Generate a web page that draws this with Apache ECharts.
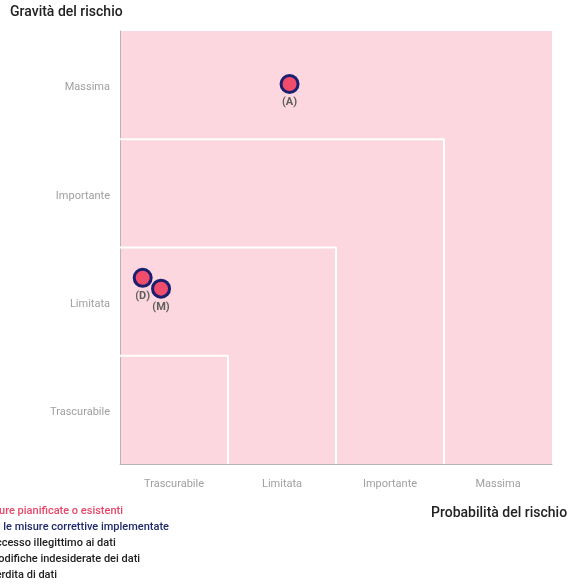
<!DOCTYPE html>
<html>
<head>
<meta charset="utf-8">
<script src="https://cdn.jsdelivr.net/npm/echarts@6/dist/echarts.min.js"></script>
<style>
	html, body { margin: 0; padding: 0; background: #fff; }
	#chart { width: 569px; height: 585px; }
</style>
</head>
<body>
<div id="chart"></div>
<script>
var levels = [ 'Trascurabile', 'Limitata', 'Importante', 'Massima' ];

// rischi: [probabilita, gravita]
var risks = [
	{ name : '(A)', value : [ 1.57, 3.51 ] },
	{ name : '(D)', value : [ 0.21, 1.72 ] },
	{ name : '(M)', value : [ 0.38, 1.62 ] }
];

// confini delle zone (linee bianche)
var zone1 = [ [ 0, 1 ], [ 1, 1 ], [ 1, 0 ] ];
var zone2 = [ [ 0, 2 ], [ 2, 2 ], [ 2, 0 ] ];
var zone3 = [ [ 0, 3 ], [ 3, 3 ], [ 3, 0 ] ];

var legendLines = [
	'Misure pianificate o esistenti',
	'Con le misure correttive implementate',
	'(A)ccesso illegittimo ai dati',
	'(M)odifiche indesiderate dei dati',
	'(P)erdita di dati'
];
var legendColors = [ '#e8476a', '#1f2a6b', '#222', '#222', '#222' ];

var chart = echarts.init(document.getElementById('chart'));

function levelLabel(v) {
	var i = Math.floor(v);
	return (Math.abs(v - i - 0.5) < 0.01 && levels[i]) ? levels[i] : '';
}

function zoneLine(data) {
	return {
		type : 'line',
		data : data,
		symbol : 'none',
		silent : true,
		lineStyle : { color : '#fff', width : 2 },
		z : 1
	};
}

var texts = legendLines.map(function(t, i) {
	return {
		type : 'text',
		left : -19,
		top : 506 + i * 16,
		style : {
			text : t,
			fill : legendColors[i],
			font : '500 11px Roboto'
		}
	};
});
texts.push({
	type : 'text',
	left : 10,
	top : 5,
	style : { text : 'Gravità del rischio', fill : '#222', font : '500 14px Roboto' }
});
texts.push({
	type : 'text',
	left : 431,
	top : 506,
	style : { text : 'Probabilità del rischio', fill : '#222', font : '500 14px Roboto' }
});

var option = {
	animation : false,
	grid : {
		left : 120,
		right : 17,
		top : 31,
		bottom : 121,
		show : true,
		backgroundColor : '#fdd7df',
		borderWidth : 0
	},
	xAxis : {
		type : 'value',
		min : 0,
		max : 4,
		interval : 0.5,
		axisLine : { lineStyle : { color : '#b5b5b5', width : 1 } },
		axisTick : { show : false },
		splitLine : { show : false },
		axisLabel : {
			formatter : levelLabel,
			color : '#a0a0a0',
			fontSize : 11,
			fontFamily : 'Roboto',
			margin : 15
		}
	},
	yAxis : {
		type : 'value',
		min : 0,
		max : 4,
		interval : 0.5,
		axisLine : { show : true, lineStyle : { color : '#b5b5b5', width : 1 } },
		axisTick : { show : false },
		splitLine : { show : false },
		axisLabel : {
			formatter : levelLabel,
			color : '#a0a0a0',
			fontSize : 11,
			fontFamily : 'Roboto',
			margin : 10,
			verticalAlign : 'top',
			padding : [ -3, 0, 0, 0 ]
		}
	},
	graphic : texts,
	series : [ zoneLine(zone1), zoneLine(zone2), zoneLine(zone3), {
		type : 'scatter',
		data : risks,
		symbolSize : 17,
		z : 3,
		itemStyle : {
			color : '#f04d6c',
			borderColor : '#1b1f6e',
			borderWidth : 3,
			opacity : 1
		},
		label : {
			show : true,
			position : 'bottom',
			distance : 3,
			formatter : '{b}',
			color : '#5f5f5f',
			fontSize : 11,
			fontWeight : 'bold',
			fontFamily : 'Roboto'
		}
	} ]
};

chart.setOption(option);

window.onresize = function() {
	chart.resize();
};
</script>
</body>
</html>
